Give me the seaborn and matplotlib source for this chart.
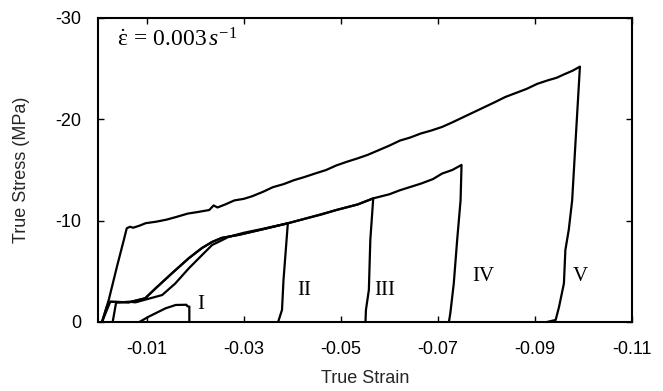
import numpy as np
import pandas as pd
import seaborn as sns
import matplotlib
matplotlib.use("Agg")
import matplotlib.pyplot as plt

# ---- data (true strain, true stress in MPa) ----
v_strain = [-0.0008, -0.0022, -0.0039, -0.0053, -0.0059, -0.0066, -0.0072, -0.0085, -0.0098,
            -0.0120, -0.0141, -0.0160, -0.0185, -0.0205, -0.0229, -0.0238, -0.0246, -0.0262,
            -0.0281, -0.0300, -0.0317, -0.0340, -0.0360, -0.0382, -0.0404, -0.0425, -0.0447,
            -0.0470, -0.0491, -0.0512, -0.0535, -0.0556, -0.0578, -0.0600, -0.0622, -0.0643,
            -0.0665, -0.0687, -0.0709, -0.0730, -0.0752, -0.0774, -0.0796, -0.0818, -0.0839,
            -0.0861, -0.0883, -0.0905, -0.0927, -0.0945, -0.0961, -0.0978, -0.0993,
            -0.0983, -0.0977, -0.0970, -0.0963, -0.0960, -0.0950, -0.0943, -0.0925]
v_stress = [0.0, -2.2, -5.5, -8.1, -9.25, -9.4, -9.3, -9.5, -9.75,
            -9.9, -10.1, -10.35, -10.7, -10.85, -11.05, -11.5, -11.3, -11.6,
            -12.0, -12.15, -12.4, -12.85, -13.3, -13.6, -14.0, -14.3, -14.65,
            -15.0, -15.45, -15.8, -16.15, -16.5, -16.95, -17.4, -17.9, -18.2,
            -18.6, -18.9, -19.25, -19.7, -20.2, -20.7, -21.2, -21.7, -22.2,
            -22.6, -23.0, -23.5, -23.85, -24.1, -24.45, -24.8, -25.2,
            -17.0, -12.0, -9.1, -7.1, -3.8, -1.5, -0.2, 0.0]

ii_strain = [-0.0008, -0.0018, -0.0025, -0.0063, -0.0097, -0.0118, -0.0152, -0.0187,
             -0.0214, -0.0235, -0.0255, -0.0290, -0.0335, -0.0391,
             -0.0382, -0.0379, -0.0371]
ii_stress = [0.0, -1.5, -2.0, -1.94, -2.34, -3.3, -4.8, -6.3,
             -7.3, -7.9, -8.3, -8.6, -9.1, -9.74,
             -4.1, -1.2, 0.0]

iii_strain = [-0.0030, -0.0037, -0.0063, -0.0077, -0.0132, -0.0159, -0.0187, -0.0214,
              -0.0235, -0.0248, -0.0269, -0.0300, -0.0340, -0.0391, -0.0427, -0.0460,
              -0.0491, -0.0535, -0.0567,
              -0.0561, -0.0558, -0.0552, -0.0551]
iii_stress = [0.0, -1.9, -2.0, -1.94, -2.66, -3.8, -5.3, -6.6,
              -7.6, -7.9, -8.4, -8.8, -9.2, -9.74, -10.2, -10.6,
              -11.05, -11.6, -12.2,
              -8.1, -3.16, -1.2, 0.0]

iv_strain = [-0.0008, -0.0025, -0.0063, -0.0097, -0.0118, -0.0152, -0.0187, -0.0214,
             -0.0235, -0.0255, -0.0290, -0.0335, -0.0391, -0.0427, -0.0491, -0.0535,
             -0.0567, -0.0600, -0.0622, -0.0665, -0.0690, -0.0709, -0.0730, -0.0749,
             -0.0747, -0.0740, -0.0733, -0.0726, -0.0723]
iv_stress = [0.0, -2.0, -1.94, -2.34, -3.3, -4.8, -6.3, -7.3,
             -7.9, -8.3, -8.6, -9.1, -9.74, -10.2, -11.05, -11.6,
             -12.2, -12.6, -13.0, -13.65, -14.1, -14.65, -15.0, -15.5,
             -12.0, -8.1, -3.8, -0.9, 0.0]

i_strain = [-0.0085, -0.0104, -0.0139, -0.0160, -0.0182, -0.0184, -0.0188, -0.0188]
i_stress = [0.0, -0.52, -1.35, -1.68, -1.70, -1.55, -1.52, 0.0]

labels = ["I", "II", "III", "IV", "V"]
label_x = [-0.0212, -0.0425, -0.0591, -0.0793, -0.0994]
label_y = [-1.75, -3.1, -3.1, -4.5, -4.5]

xticks = [-0.01, -0.03, -0.05, -0.07, -0.09, -0.11]
yticks = [0, -10, -20, -30]

# ---- style ----
sns.set_style("ticks")
plt.rcParams["font.family"] = ["Liberation Sans", "DejaVu Sans"]
plt.rcParams["mathtext.fontset"] = "custom"
plt.rcParams["mathtext.rm"] = "Liberation Serif"
plt.rcParams["mathtext.it"] = "Liberation Serif:italic"
plt.rcParams["mathtext.bf"] = "Liberation Serif:bold"
plt.rcParams["xtick.direction"] = "in"
plt.rcParams["ytick.direction"] = "in"

fig = plt.figure(figsize=(6.63, 3.91), dpi=100)
ax = fig.add_axes([0.148, 0.1765, 0.805, 0.7775])

curves = [(i_strain, i_stress), (ii_strain, ii_stress), (iii_strain, iii_stress),
          (iv_strain, iv_stress), (v_strain, v_stress)]
for xs, ys in curves:
    df = pd.DataFrame({"strain": xs, "stress": ys})
    sns.lineplot(data=df, x="strain", y="stress", sort=False, estimator=None,
                 color="black", linewidth=1.6, ax=ax)

for lab, lx, ly in zip(labels, label_x, label_y):
    ax.text(lx, ly, lab, fontsize=15, family=["Liberation Serif", "DejaVu Serif"],
            ha="center", va="center", color="black")

ax.text(-0.0038, -27.8, r"$\mathrm{\dot{\varepsilon}}\,=\,\mathrm{0.003}\,s^{-1}$", fontsize=17,
        ha="left", va="center", color="black")

ax.set_xlim(0, -0.11)
ax.set_ylim(0, -30)
ax.set_xticks(xticks)
ax.set_xticklabels([f"{t:.2f}" for t in xticks])
ax.set_yticks(yticks)
ax.set_yticklabels([str(t) for t in yticks])
ax.tick_params(axis="x", labelsize=13, length=4, width=1, top=True, colors="black", pad=14)
ax.tick_params(axis="y", labelsize=13, length=4, width=1, right=True, colors="black", pad=12)
for s in ax.spines.values():
    s.set_linewidth(1.5)
    s.set_color("black")
ax.set_xlabel("True Strain", fontsize=13, labelpad=8)
ax.set_ylabel("True Stress (MPa)", fontsize=13, labelpad=18)

fig.savefig("out.png", dpi=100)
